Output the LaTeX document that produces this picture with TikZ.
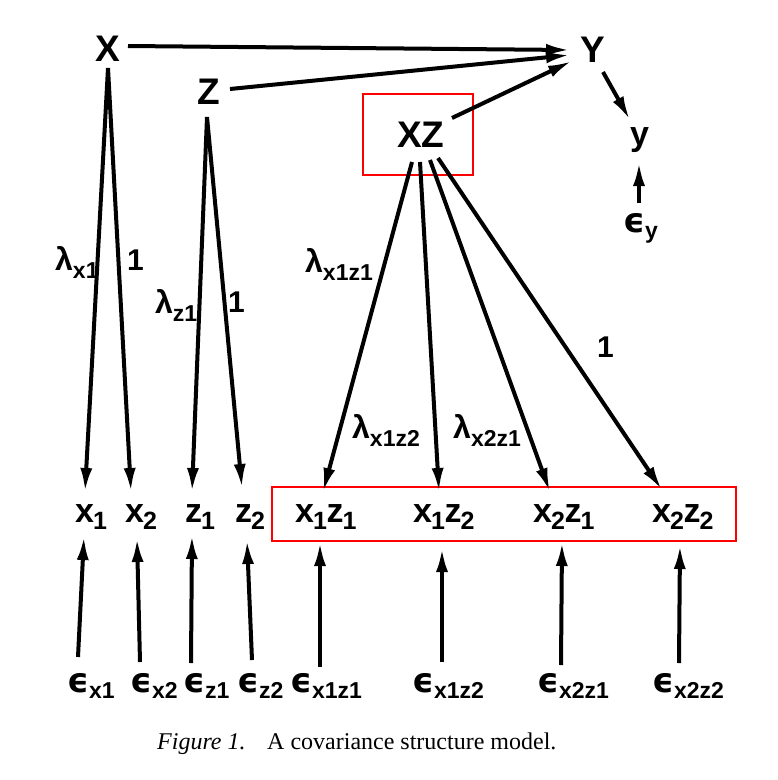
\documentclass[tikz,border=0pt]{standalone}
\usepackage{fontspec}
\setmainfont{Liberation Sans}
\newfontfamily\capfont{Liberation Serif}
\newfontfamily\epsfont{DejaVu Sans}
\usetikzlibrary{arrows.meta}
\newcommand\xsub[1]{\kern-1pt\raisebox{-7pt}{\fontsize{25}{25}\selectfont #1}\kern-0.5pt}
\newcommand\lsub[1]{\raisebox{-8pt}{\fontsize{23}{23}\selectfont #1}}
\newcommand\esub[1]{\raisebox{-6pt}{\fontsize{23}{23}\selectfont #1}}
\newcommand\epsg{{\epsfont\bfseries\fontsize{34}{34}\selectfont ϵ}}
\begin{document}
\begin{tikzpicture}[x=1pt,y=-1pt,
  lab/.style={inner sep=0pt, anchor=base west},
  big/.style={lab, font=\bfseries\fontsize{37}{37}\selectfont},
  obs/.style={lab, font=\bfseries\fontsize{34}{34}\selectfont},
  coef/.style={lab, font=\bfseries\fontsize{32}{32}\selectfont},
  err/.style={lab, font=\bfseries\fontsize{31}{31}\selectfont},
  one/.style={lab, font=\bfseries\fontsize{30}{30}\selectfont},
  capt/.style={lab, font=\capfont\fontsize{24}{24}\selectfont},
  arr/.style={line width=4pt, -{Latex[length=24pt,width=12pt]}},
  redbox/.style={draw=red, line width=2pt, inner sep=0pt}]
\useasboundingbox (0,0) rectangle (778,780);
% latent variables
\node[big] (X) at (95,61) {X};
\node[big] (Y) at (580,62) {Y};
\node[big] (Z) at (197,104) {Z};
\node[big] (XZ) at (397,147) {XZ};
\node[obs] (y) at (630,145) {y};
\node[err] (ey) at (623,232) {\epsg\esub{y}};
\node[redbox, minimum width=110pt, minimum height=81pt] (boxXZ) at (418,134.5) {};
% indicators
\node[obs] (x1) at (75,522) {x\xsub{1}};
\node[obs] (x2) at (125,522) {x\xsub{2}};
\node[obs] (z1) at (185,522) {z\xsub{1}};
\node[obs] (z2) at (235,522) {z\xsub{2}};
\node[obs] (x1z1) at (295,522) {x\xsub{1}z\xsub{1}};
\node[obs] (x1z2) at (413,522) {x\xsub{1}z\xsub{2}};
\node[obs] (x2z1) at (533,522) {x\xsub{2}z\xsub{1}};
\node[obs] (x2z2) at (652,522) {x\xsub{2}z\xsub{2}};
\node[redbox, minimum width=464pt, minimum height=54pt] (boxrow) at (504,514) {};
% errors
\node[err] (ex1) at (67,692) {\epsg\esub{x1}};
\node[err] (ex2) at (130,692) {\epsg\esub{x2}};
\node[err] (ez1) at (183,692) {\epsg\esub{z1}};
\node[err] (ez2) at (237,692) {\epsg\esub{z2}};
\node[err] (ex1z1) at (290,692) {\epsg\esub{x1z1}};
\node[err] (ex1z2) at (412,692) {\epsg\esub{x1z2}};
\node[err] (ex2z1) at (537,692) {\epsg\esub{x2z1}};
\node[err] (ex2z2) at (652,692) {\epsg\esub{x2z2}};
% coefficients
\node[coef] (lx1) at (55,270) {λ\lsub{x1}};
\node[one] (o1) at (127,270) {1};
\node[coef] (lz1) at (155,313) {λ\lsub{z1}};
\node[one] (o2) at (228,312) {1};
\node[coef] (lx1z1) at (305,272) {λ\lsub{x1z1}};
\node[coef] (lx1z2) at (352,438) {λ\lsub{x1z2}};
\node[coef] (lx2z1) at (453,438) {λ\lsub{x2z1}};
\node[one] (o3) at (597,357) {1};
% caption
\node[capt] (cap1) at (157,749) {\itshape Figure 1.};
\node[capt] (cap2) at (267,749) {A covariance structure model.};
% structural arrows
\draw[arr] ([shift={(33,-15)}]X.base west) -- ([shift={(-10,-12)}]Y.base west);
\draw[arr] ([shift={(33,-15)}]Z.base west) -- ([shift={(-10,-7)}]Y.base west);
\draw[arr] ([shift={(55,-29)}]XZ.base west) -- ([shift={(-8,-1)}]Y.base west);
\draw[arr] ([shift={(23,10)}]Y.base west) -- ([shift={(0,-25)}]y.base west);
\draw[arr] ([shift={(16,-29)}]ey.base west) -- ([shift={(9,17)}]y.base west);
% loadings
\draw[arr] ([shift={(13,7)}]X.base west) -- ([shift={(10,-30)}]x1.base west);
\draw[arr] ([shift={(13,7)}]X.base west) -- ([shift={(6,-30)}]x2.base west);
\draw[arr] ([shift={(10,13)}]Z.base west) -- ([shift={(7,-30)}]z1.base west);
\draw[arr] ([shift={(10,13)}]Z.base west) -- ([shift={(7,-34)}]z2.base west);
\draw[arr] ([shift={(15,15)}]XZ.base west) -- ([shift={(28,-30)}]x1z1.base west);
\draw[arr] ([shift={(23,15)}]XZ.base west) -- ([shift={(26,-30)}]x1z2.base west);
\draw[arr] ([shift={(33,13)}]XZ.base west) -- ([shift={(17,-30)}]x2z1.base west);
\draw[arr] ([shift={(41,11)}]XZ.base west) -- ([shift={(10,-32)}]x2z2.base west);
% error arrows
\draw[arr] ([shift={(11,-35)}]ex1.base west) -- ([shift={(9,14)}]x1.base west);
\draw[arr] ([shift={(10,-30)}]ex2.base west) -- ([shift={(12,16)}]x2.base west);
\draw[arr] ([shift={(8,-29)}]ez1.base west) -- ([shift={(7,13)}]z1.base west);
\draw[arr] ([shift={(15,-32)}]ez2.base west) -- ([shift={(12,18)}]z2.base west);
\draw[arr] ([shift={(30,-25)}]ex1z1.base west) -- ([shift={(25,20)}]x1z1.base west);
\draw[arr] ([shift={(30,-30)}]ex1z2.base west) -- ([shift={(29,26)}]x1z2.base west);
\draw[arr] ([shift={(24,-27)}]ex2z1.base west) -- ([shift={(29,20)}]x2z1.base west);
\draw[arr] ([shift={(27,-29)}]ex2z2.base west) -- ([shift={(28,23)}]x2z2.base west);
\end{tikzpicture}
\end{document}
